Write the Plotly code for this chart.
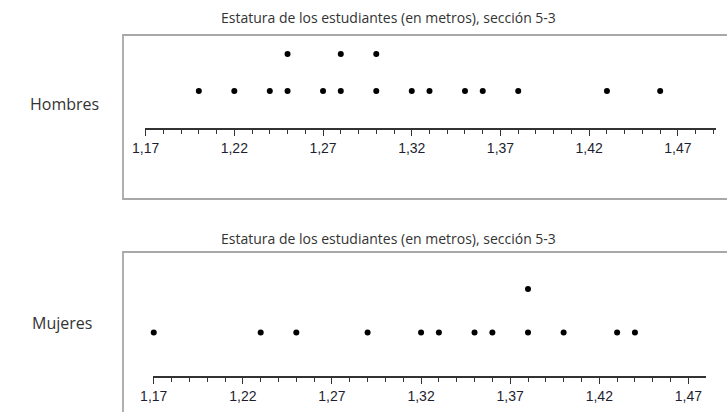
import plotly.graph_objects as go

# ---- data ----
titulo = "Estatura de los estudiantes (en metros), sección 5-3"
grupos = ["Hombres", "Mujeres"]
hombres = [1.20, 1.22, 1.24, 1.25, 1.25, 1.27, 1.28, 1.28, 1.30, 1.30,
           1.32, 1.33, 1.35, 1.36, 1.38, 1.43, 1.46]
mujeres = [1.17, 1.23, 1.25, 1.29, 1.32, 1.33, 1.35, 1.36, 1.38, 1.38,
           1.40, 1.43, 1.44]
tick_vals = [1.17, 1.22, 1.27, 1.32, 1.37, 1.42, 1.47]
tick_text = ["1,17", "1,22", "1,27", "1,32", "1,37", "1,42", "1,47"]

W, H = 727, 412


def px_x(p):
    return p / W


def px_y(p):
    return 1 - p / H


def stack(values):
    seen = {}
    levels = []
    for v in values:
        k = round(v, 4)
        seen[k] = seen.get(k, 0) + 1
        levels.append(seen[k])
    return levels


fig = go.Figure()
fig.add_trace(go.Scatter(x=hombres, y=stack(hombres), mode="markers",
                         marker=dict(color="black", size=6),
                         xaxis="x", yaxis="y", cliponaxis=False,
                         showlegend=False, hoverinfo="x"))
fig.add_trace(go.Scatter(x=mujeres, y=stack(mujeres), mode="markers",
                         marker=dict(color="black", size=6),
                         xaxis="x2", yaxis="y2", cliponaxis=False,
                         showlegend=False, hoverinfo="x"))

axis_common = dict(
    showline=True, linecolor="#333333", linewidth=1.6,
    showgrid=False, zeroline=False,
    ticks="outside", ticklen=6, tickwidth=1.2, tickcolor="#333333",
    tickmode="array", tickvals=tick_vals, ticktext=tick_text,
    tickfont=dict(family="Liberation Sans, Arial", size=14, color="#1e1e30"),
    minor=dict(tickmode="linear", tick0=1.17, dtick=0.01, ticks="outside",
               ticklen=4, tickwidth=1.2, tickcolor="#333333", showgrid=False),
    fixedrange=True,
)

text_font = dict(family="Open Sans", size=14, color="#333333")
label_font = dict(family="Open Sans", size=16, color="#333333")

fig.update_layout(
    width=W, height=H,
    margin=dict(l=0, r=0, t=0, b=0),
    paper_bgcolor="white", plot_bgcolor="rgba(0,0,0,0)",
    xaxis=dict(domain=[px_x(134.1), px_x(715.7)], range=[1.1695, 1.4914],
               anchor="y", **axis_common),
    yaxis=dict(domain=[px_y(128), px_y(35)], range=[0, 2.514],
               visible=False, fixedrange=True),
    xaxis2=dict(domain=[px_x(142.4), px_x(705.3)], range=[1.1695, 1.4797],
                anchor="y2", **axis_common),
    yaxis2=dict(domain=[px_y(376), px_y(252)], range=[0, 2.851],
                visible=False, fixedrange=True),
    shapes=[
        dict(type="rect", xref="paper", yref="paper",
             x0=px_x(112), x1=px_x(760), y0=px_y(199), y1=px_y(35),
             line=dict(color="#a8a8a8", width=1.8), layer="below"),
        dict(type="rect", xref="paper", yref="paper",
             x0=px_x(112), x1=px_x(760), y0=px_y(440), y1=px_y(252),
             line=dict(color="#a8a8a8", width=1.8), layer="below"),
    ],
    annotations=[
        dict(text=titulo, xref="paper", yref="paper", x=px_x(382), y=px_y(18),
             showarrow=False, xanchor="center", yanchor="middle", font=text_font),
        dict(text=titulo, xref="paper", yref="paper", x=px_x(382), y=px_y(238),
             showarrow=False, xanchor="center", yanchor="middle", font=text_font),
        dict(text=grupos[0], xref="paper", yref="paper", x=px_x(52), y=px_y(104),
             showarrow=False, xanchor="center", yanchor="middle", font=label_font),
        dict(text=grupos[1], xref="paper", yref="paper", x=px_x(50), y=px_y(323),
             showarrow=False, xanchor="center", yanchor="middle", font=label_font),
    ],
)

fig.write_html(
    "out.html",
    config={"displayModeBar": False},
    post_script="document.body.style.margin='0';document.body.style.overflow='hidden';",
)
